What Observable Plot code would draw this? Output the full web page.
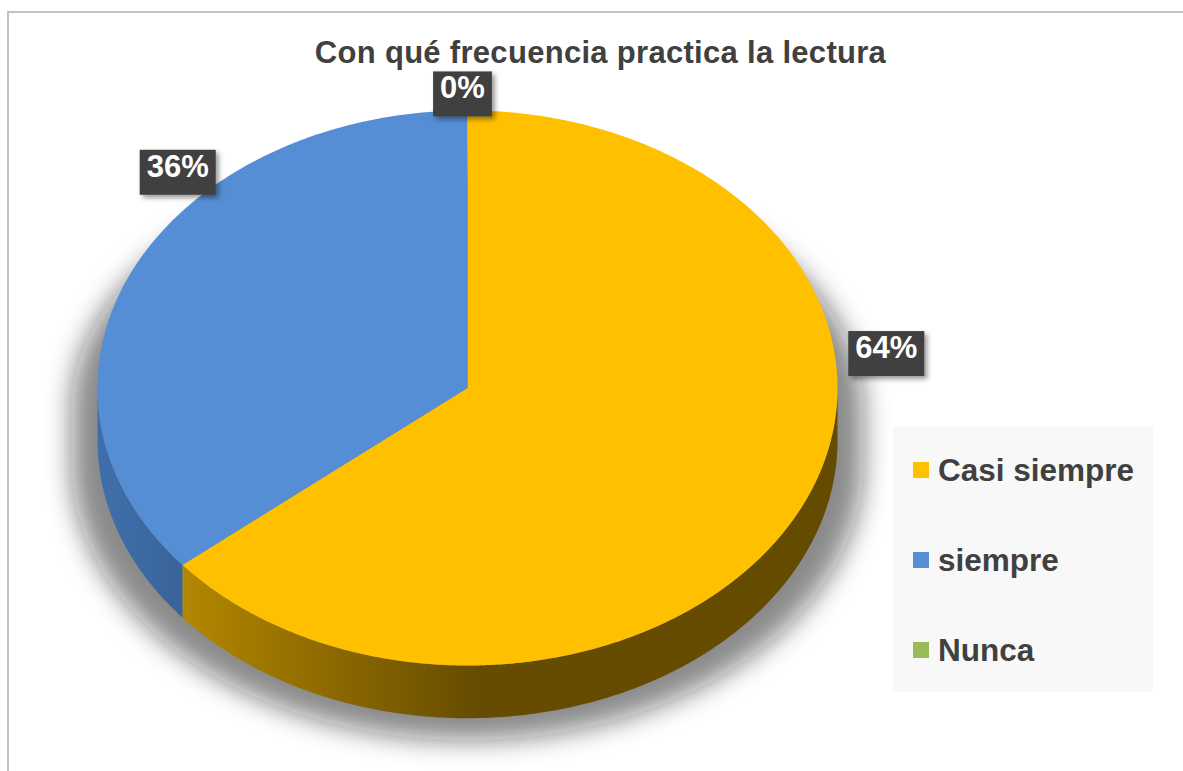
<!DOCTYPE html>
<html>
<head>
<meta charset="utf-8">
<script src="https://cdn.jsdelivr.net/npm/d3@7"></script>
<script src="https://cdn.jsdelivr.net/npm/@observablehq/plot@0.6"></script>
<style>
  html, body { margin: 0; padding: 0; background: #fff; width: 1183px; height: 771px; overflow: hidden; font-family: "Liberation Sans", Arial, sans-serif; }
  #frame { position: absolute; left: 7px; top: 11px; width: 1300px; height: 900px; border: 2px solid #c2c2c2; box-sizing: border-box; }
  #chart { position: absolute; left: 0; top: 0; }
  #title { position: absolute; left: 0; top: 35px; width: 1201px; text-align: center; font-size: 31px; font-weight: bold; color: #404040; letter-spacing: 0.3px; }
  #legend { position: absolute; left: 893px; top: 427px; width: 260px; height: 265px; background: #f8f8f8; }
  .item { position: absolute; left: 20px; height: 40px; display: flex; align-items: center; font-size: 31.5px; font-weight: bold; color: #404040; }
  .sw { width: 16px; height: 16px; margin-right: 9px; }
</style>
</head>
<body>
<div id="frame"></div>
<div id="chart"></div>
<div id="title">Con qué frecuencia practica la lectura</div>
<div id="legend"></div>
<script>
// ---- data ----
const categories = ["Casi siempre", "siempre", "Nunca"];
const values = [64, 36, 0];
const pctLabels = ["64%", "36%", "0%"];

const topColors = ["#ffc000", "#558ed5", "#9bbb59"];
const sideFills = ["url(#sideY)", "url(#sideB)", "url(#sideG)"];
const SHADOW = "#111111";
const DEPTH = 0.19;          // thickness of the 3D disc (in y units)
const STEP = Math.PI / 360;

const total = d3.sum(values);
let acc = 0;
const slices = categories.map((c, i) => {
  const a0 = acc / total * 2 * Math.PI;
  acc += values[i];
  const a1 = acc / total * 2 * Math.PI;
  return {cat: c, i, a0, a1, label: pctLabels[i]};
});

function arcAngles(a0, a1) {
  const n = Math.max(1, Math.ceil((a1 - a0) / STEP));
  return d3.range(n + 1).map(k => a0 + (a1 - a0) * k / n);
}

const topPts = slices.flatMap(s => s.a1 > s.a0
  ? [{cat: s.cat, x: 0, y: 0}, ...arcAngles(s.a0, s.a1).map(t => ({cat: s.cat, x: Math.sin(t), y: Math.cos(t)}))]
  : []);

function sidePts(s) {
  const lo = Math.max(s.a0, Math.PI / 2), hi = Math.min(s.a1, 3 * Math.PI / 2);
  if (hi <= lo) return [];
  const ts = arcAngles(lo, hi);
  return [
    ...ts.map(t => ({cat: s.cat, x: Math.sin(t), y: Math.cos(t)})),
    ...ts.slice().reverse().map(t => ({cat: s.cat, x: Math.sin(t), y: Math.cos(t) - DEPTH}))
  ];
}

const shadowPts = [
  ...arcAngles(-Math.PI / 2, Math.PI / 2).map(t => ({x: Math.sin(t), y: Math.cos(t) * 0.9})),
  ...arcAngles(Math.PI / 2, 3 * Math.PI / 2).map(t => ({x: Math.sin(t), y: Math.cos(t) - DEPTH}))
];

// label layout nudges (Excel "best fit" placement), applied to mid-angle anchors
const labelNudge = [[84, -158], [45, -103], [-5, -22]];

const labelMarks = slices.map(s => {
  const m = (s.a0 + s.a1) / 2;
  return Plot.text([{x: Math.sin(m), y: Math.cos(m), t: s.label}], {
    x: "x", y: "y", text: "t",
    dx: labelNudge[s.i][0], dy: labelNudge[s.i][1],
    fill: "white", fontSize: 31, fontWeight: "bold",
    fontFamily: "Liberation Sans, Arial, sans-serif"
  });
});

const plot = Plot.plot({
  width: 1183, height: 771, margin: 0,
  style: {background: "transparent", overflow: "visible"},
  x: {domain: [-1, 1], range: [97, 837], axis: null},
  y: {domain: [1, -1], range: [110, 665], axis: null},
  color: {domain: categories, range: topColors},
  marks: [
    Plot.line(shadowPts, {x: d => d.x * 1.07, y: "y", fill: SHADOW, fillOpacity: 0.5, stroke: "none", curve: "linear-closed", dy: 22}),
    ...slices.map(s => Plot.line(sidePts(s), {x: "x", y: "y", fill: sideFills[s.i], stroke: "none", curve: "linear-closed"})),
    Plot.line(topPts, {x: "x", y: "y", z: "cat", fill: "cat", stroke: "none", curve: "linear-closed"}),
    ...labelMarks
  ]
});

document.getElementById("chart").appendChild(plot);

const defs = document.createElementNS("http://www.w3.org/2000/svg", "defs");
defs.innerHTML = `
  <linearGradient id="sideY" x1="0" x2="1" y1="0" y2="0">
    <stop offset="0" stop-color="#b38700"/>
    <stop offset="0.45" stop-color="#664c00"/>
    <stop offset="1" stop-color="#654b00"/>
  </linearGradient>
  <linearGradient id="sideB" x1="0" x2="1" y1="0" y2="0">
    <stop offset="0" stop-color="#3f6fab"/>
    <stop offset="1" stop-color="#39649a"/>
  </linearGradient>
  <linearGradient id="sideG" x1="0" x2="1" y1="0" y2="0">
    <stop offset="0" stop-color="#7a9445"/>
    <stop offset="1" stop-color="#5f7335"/>
  </linearGradient>
  <filter id="blur" x="-20%" y="-20%" width="140%" height="140%">
    <feGaussianBlur stdDeviation="13"/>
  </filter>
  <filter id="boxShadow" x="-30%" y="-30%" width="160%" height="160%">
    <feDropShadow dx="3" dy="3" stdDeviation="2.5" flood-color="#000" flood-opacity="0.4"/>
  </filter>`;
plot.insertBefore(defs, plot.firstChild);

plot.querySelectorAll("g").forEach(g => {
  if ((g.getAttribute("fill") || "").toLowerCase() === SHADOW) g.setAttribute("filter", "url(#blur)");
});

// dark boxes behind percentage labels
plot.querySelectorAll("text").forEach(t => {
  const b = t.getBBox();
  const r = document.createElementNS("http://www.w3.org/2000/svg", "rect");
  r.setAttribute("x", b.x - 7);
  r.setAttribute("y", b.y + 1);
  r.setAttribute("width", b.width + 14);
  r.setAttribute("height", b.height + 10);
  r.setAttribute("fill", "#404040");
  r.setAttribute("filter", "url(#boxShadow)");
  const tr = t.getAttribute("transform");
  if (tr) r.setAttribute("transform", tr);
  t.parentNode.insertBefore(r, t);
});

// legend
const legend = d3.select("#legend");
const legendTops = categories.map((c, i) => 23 + i * 90);
categories.forEach((c, i) => {
  const it = legend.append("div").attr("class", "item").style("top", legendTops[i] + "px");
  it.append("div").attr("class", "sw").style("background", topColors[i]);
  it.append("span").text(c);
});
</script>
</body>
</html>
